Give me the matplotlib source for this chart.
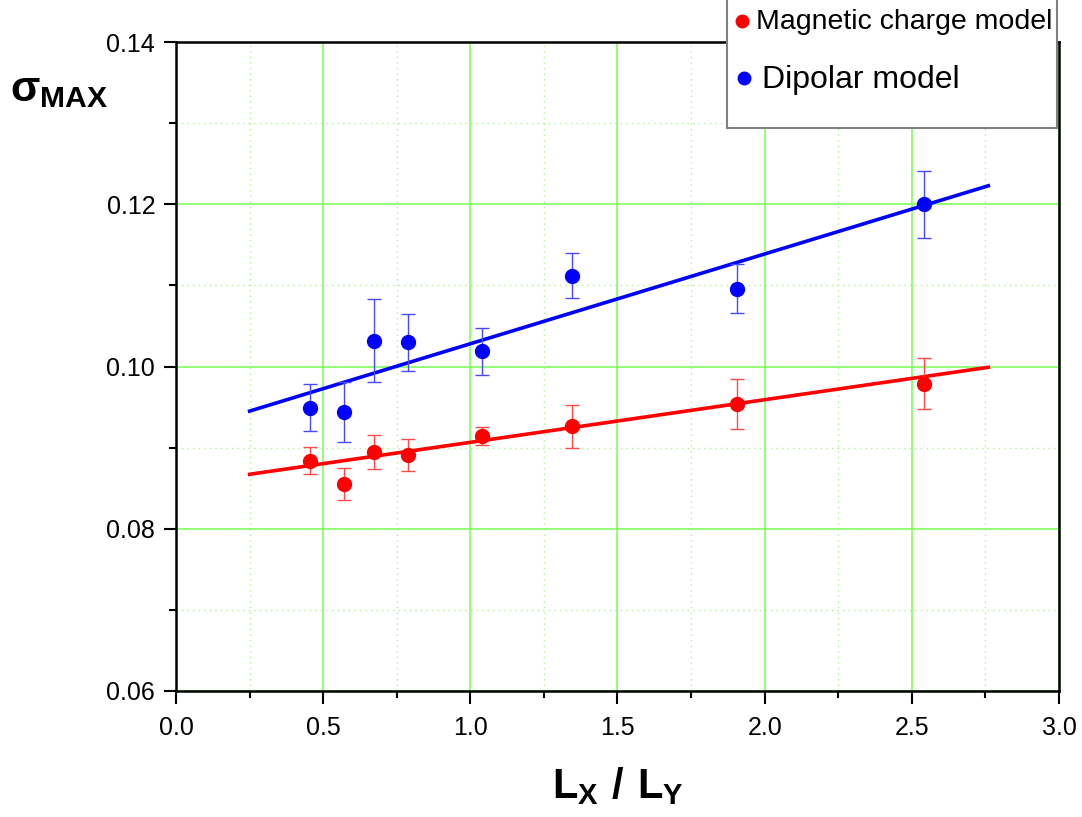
import numpy as np
import matplotlib
matplotlib.use("Agg")
import matplotlib.pyplot as plt
from matplotlib.lines import Line2D
from matplotlib.patches import Rectangle

plt.rcParams['font.family'] = ['Liberation Sans', 'DejaVu Sans']
plt.rcParams['mathtext.fontset'] = 'custom'
plt.rcParams['mathtext.rm'] = 'Liberation Sans'
plt.rcParams['mathtext.bf'] = 'Liberation Sans:bold'

# data
ratio = np.array([0.454, 0.571, 0.672, 0.789, 1.040, 1.347, 1.907, 2.542])
dipolar = np.array([0.0949, 0.0944, 0.1032, 0.1030, 0.1019, 0.1112, 0.1096, 0.1200])
dipolar_err = np.array([0.0029, 0.0037, 0.0051, 0.0035, 0.0029, 0.0028, 0.0030, 0.0041])
charge = np.array([0.0884, 0.0855, 0.0894, 0.0891, 0.0914, 0.0926, 0.0954, 0.0979])
charge_err = np.array([0.0017, 0.0020, 0.0021, 0.0020, 0.0011, 0.0027, 0.0031, 0.0031])

# fitted lines (end points)
fit_x = [0.25, 2.76]
dipolar_fit = [0.0945, 0.1223]
charge_fit = [0.0867, 0.0999]

fig = plt.figure(figsize=(10.82, 8.17), dpi=100)
ax = fig.add_axes([0.1627, 0.1546, 0.9787 - 0.1627, 0.9482 - 0.1546])

ax.set_xlim(0, 3)
ax.set_ylim(0.06, 0.14)
ax.set_xticks(np.arange(0, 3.01, 0.5))
ax.set_xticks(np.arange(0.25, 3, 0.5), minor=True)
ax.set_yticks(np.arange(0.06, 0.141, 0.02))
ax.set_yticks(np.arange(0.07, 0.14, 0.02), minor=True)
ax.xaxis.set_major_formatter(matplotlib.ticker.FormatStrFormatter('%.1f'))
ax.yaxis.set_major_formatter(matplotlib.ticker.FormatStrFormatter('%.2f'))

ax.grid(which='major', color='#80ff60', linewidth=1.2)
ax.grid(which='minor', color='#b0f090', linewidth=1.0, linestyle=(0, (1, 3)))
ax.set_axisbelow(True)

for s in ax.spines.values():
    s.set_linewidth(1.8)
ax.tick_params(which='major', direction='out', length=9, width=1.5, labelsize=18, pad=6)
ax.tick_params(which='minor', direction='out', length=5, width=1.5)
ax.tick_params(axis='x', which='major', pad=9)

ax.plot(fit_x, dipolar_fit, color='#0000ff', linewidth=2.6, zorder=3)
ax.plot(fit_x, charge_fit, color='#ff0000', linewidth=2.6, zorder=3)
ax.errorbar(ratio, dipolar, yerr=dipolar_err, fmt='none', ecolor='#4848ff',
            elinewidth=1.0, capsize=5, capthick=1.0, zorder=4)
ax.errorbar(ratio, charge, yerr=charge_err, fmt='none', ecolor='#ff4848',
            elinewidth=1.0, capsize=5, capthick=1.0, zorder=4)
ax.plot(ratio, dipolar, 'o', color='#0000ff', markersize=10, zorder=5)
ax.plot(ratio, charge, 'o', color='#ff0000', markersize=10, zorder=5)

# axis labels
fig.text(10 / 1082, 1 - 101 / 817, r'$\mathbf{σ_{MAX}}$', fontsize=31,
         ha='left', va='baseline')
fig.text(618 / 1082, 1 - 798 / 817, r'$\mathbf{L_X\ /\ L_Y}$', fontsize=30,
         ha='center', va='baseline')

# legend box
W, H = 1082, 817
fig.add_artist(Rectangle((727 / W, 1 - 128 / H), 330 / W, 140 / H,
                         transform=fig.transFigure, facecolor='white',
                         edgecolor='#808080', linewidth=1.5, zorder=10))
fig.add_artist(Line2D([742 / W], [1 - 21 / H], marker='o', color='#ff0000',
                      markersize=9, transform=fig.transFigure, zorder=11))
fig.add_artist(Line2D([744 / W], [1 - 78 / H], marker='o', color='#0000ff',
                      markersize=9, transform=fig.transFigure, zorder=11))
fig.text(756 / W, 1 - 22 / H, 'Magnetic charge model', fontsize=20.5,
         ha='left', va='center', zorder=12)
fig.text(762 / W, 1 - 80 / H, 'Dipolar model', fontsize=23,
         ha='left', va='center', zorder=12)

fig.savefig('out.png', dpi=100)
